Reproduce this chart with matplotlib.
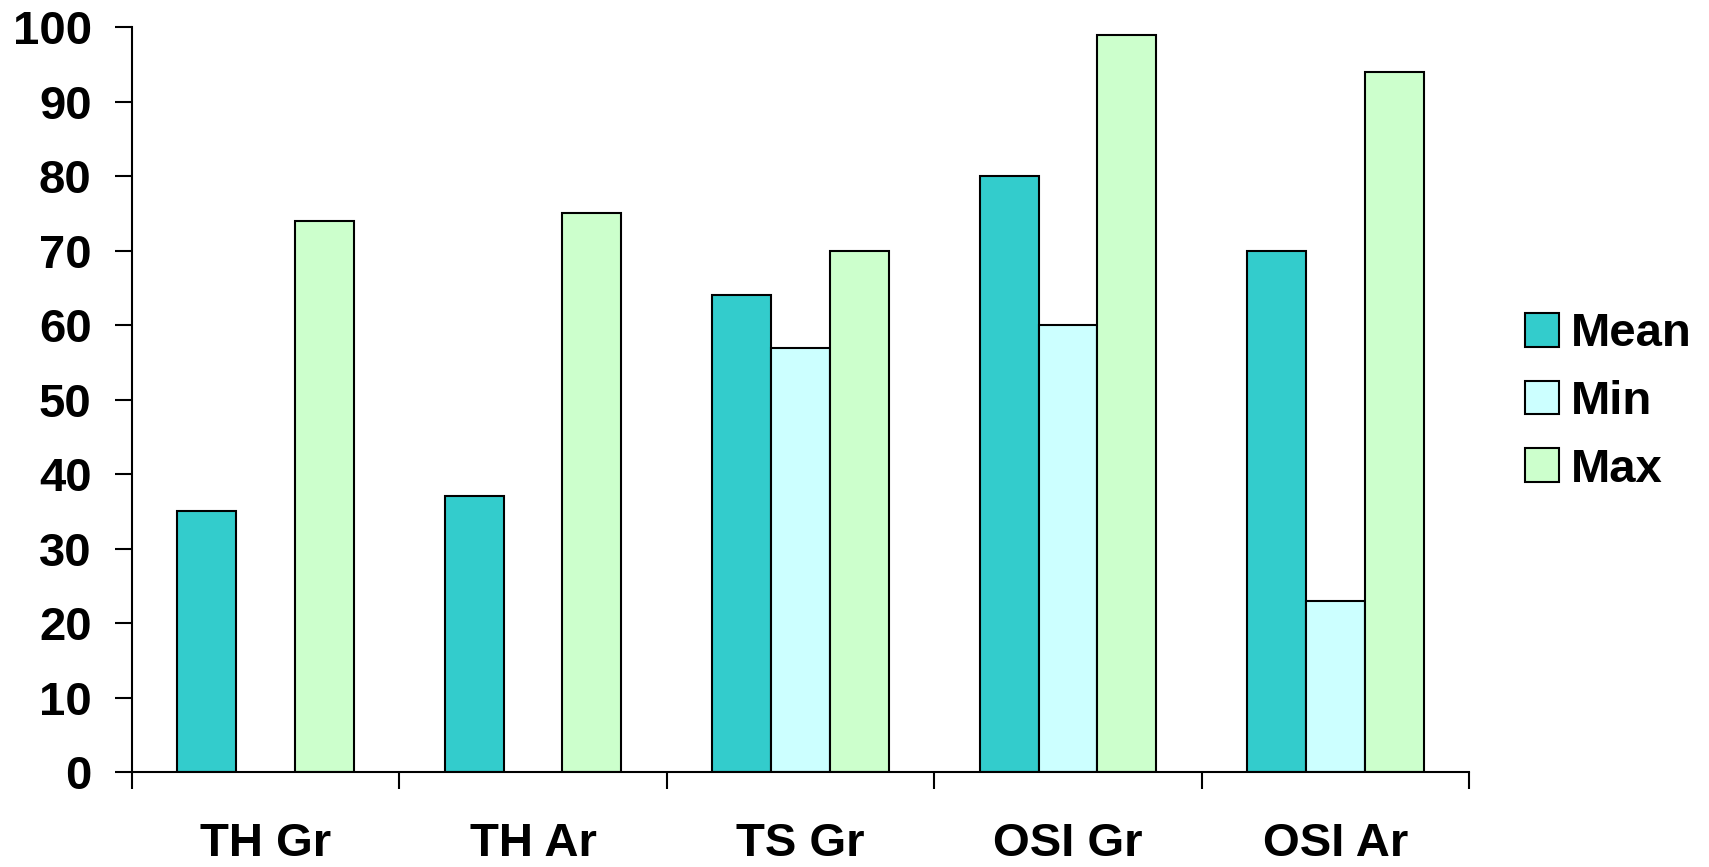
import numpy as np
from matplotlib import pyplot as plt

plt.rcParams['font.family'] = ['Liberation Sans', 'DejaVu Sans']
plt.rcParams['font.weight'] = 'bold'

categories = ['TH Gr', 'TH Ar', 'TS Gr', 'OSI Gr', 'OSI Ar']
mean_vals = [35, 37, 64, 80, 70]
min_vals = [np.nan, np.nan, 57, 60, 23]
max_vals = [74, 75, 70, 99, 94]

series = [('Mean', mean_vals, '#33CCCC'),
          ('Min', min_vals, '#CCFFFF'),
          ('Max', max_vals, '#CCFFCC')]

fig = plt.figure(figsize=(17.09, 8.67), dpi=100)
ax = fig.add_axes([0.0772, 0.1096, 0.7824, 0.8589])

x = np.arange(len(categories))
w = 0.22
for i, (name, vals, col) in enumerate(series):
    ax.bar(x + (i - 1) * w, vals, w, color=col, edgecolor='black', linewidth=1.5, label=name)

ax.set_xlim(-0.5, len(categories) - 0.5)
ax.set_ylim(0, 100)
ax.set_yticks(range(0, 101, 10))

ax.set_xticks(np.arange(len(categories) + 1) - 0.5)
ax.set_xticklabels([])
ax.set_xticks(x, minor=True)
ax.set_xticklabels(categories, minor=True)
ax.tick_params(axis='x', which='major', direction='out', length=12, width=1.5)
ax.tick_params(axis='x', which='minor', length=0, pad=36, labelsize=34)
ax.tick_params(axis='y', direction='out', length=12, width=1.5, pad=17, labelsize=34)

ax.spines['top'].set_visible(False)
ax.spines['right'].set_visible(False)
ax.spines['left'].set_linewidth(1.5)
ax.spines['bottom'].set_linewidth(1.5)

fig.legend(loc='center left', bbox_to_anchor=(1525 / 1709, 1 - 402 / 867),
           frameon=False, fontsize=34, handlelength=0.72, handleheight=0.72,
           handletextpad=0.25, labelspacing=0.5, borderpad=0, borderaxespad=0)

fig.savefig('out.png', dpi=100)
